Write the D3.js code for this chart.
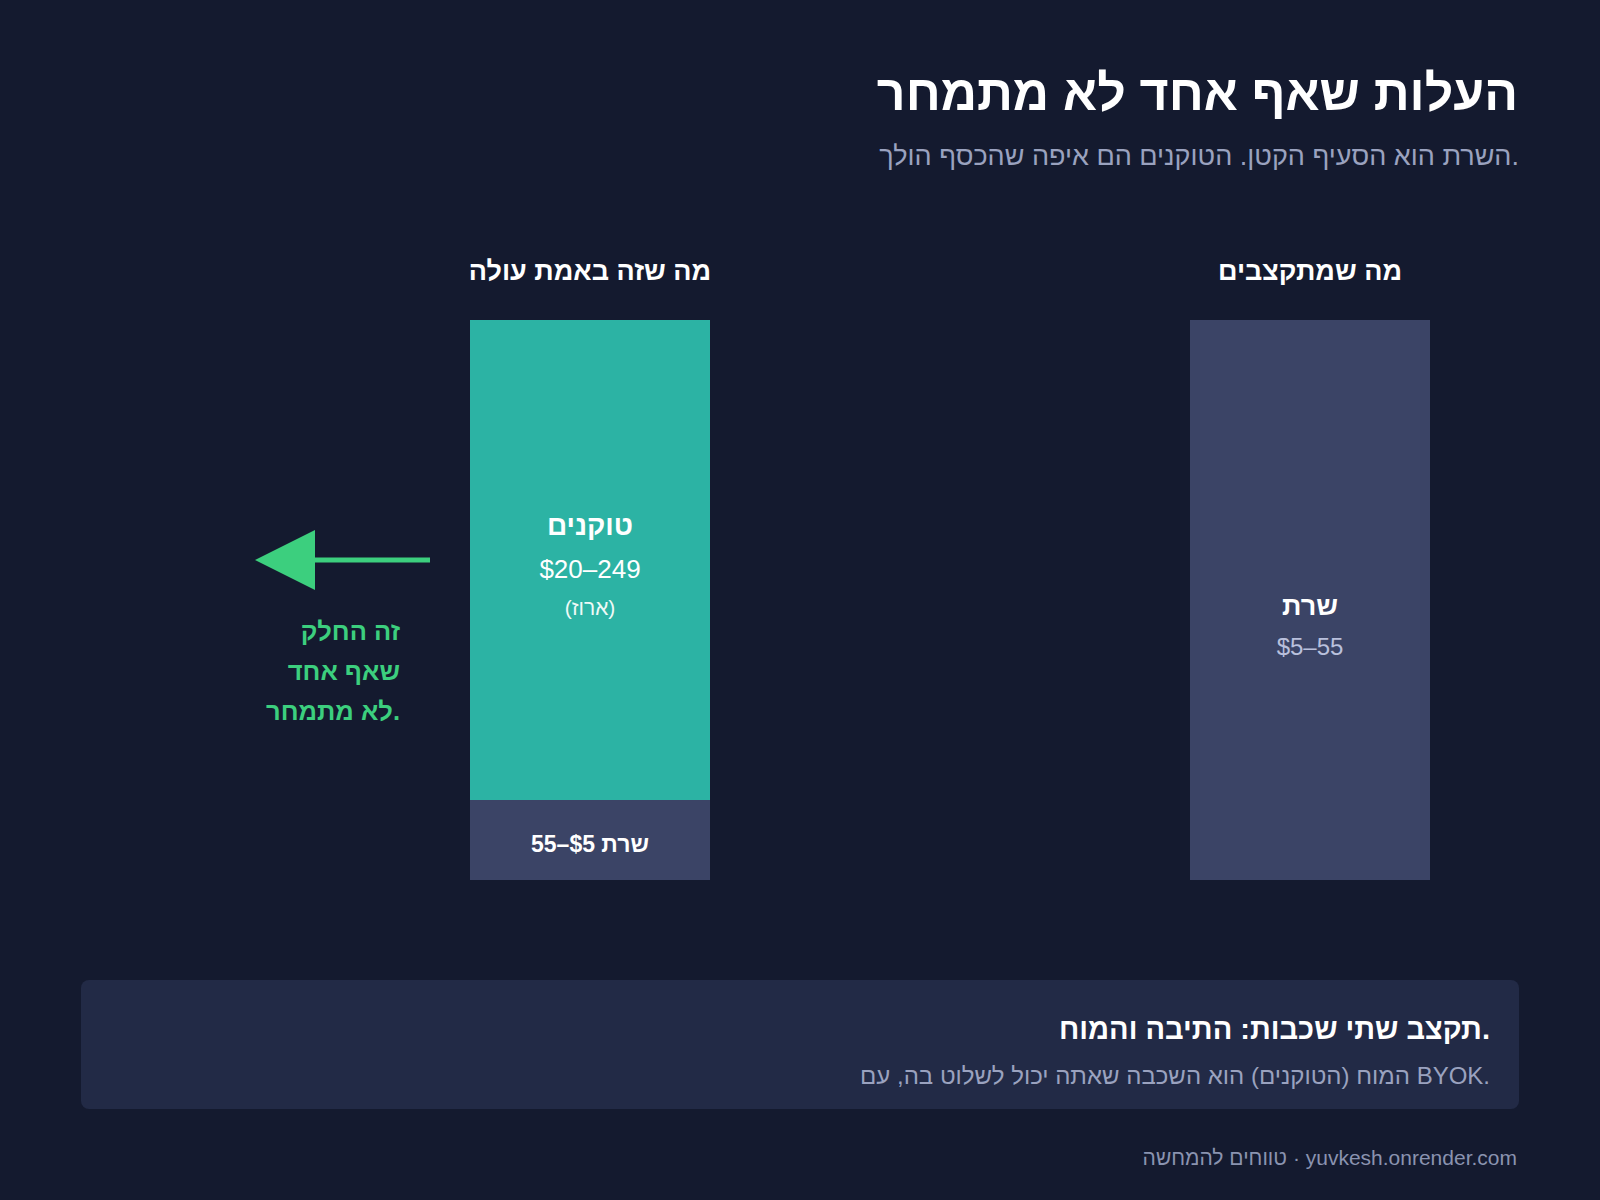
<!DOCTYPE html>
<html>
<head>
<meta charset="utf-8">
<script src="https://cdn.jsdelivr.net/npm/d3@7"></script>
<style>
  html, body { margin: 0; padding: 0; background: #141a2f; }
  svg { display: block; }
  text { font-family: "Liberation Sans", Arial, "DejaVu Sans", sans-serif; }
</style>
</head>
<body>
<svg id="chart" width="1600" height="1200"></svg>
<script>
// ---- data ----
const columns = ["מה שזה באמת עולה", "מה שמתקצבים"];
const segmentKeys = ["server", "tokens"];
// illustrative bar units (not to scale of dollars)
const actualValues = [1, 6];      // server, tokens
const budgetValues = [7, 0];      // server, tokens
const serverRange = "$5–55";
const tokensRange = "$20–249";
const serverName = "שרת";
const tokensName = "טוקנים";
const tokensNote = "(ארוז)";
const annotationLines = ["זה החלק", "שאף אחד", "לא מתמחר."];
const titleText = "העלות שאף אחד לא מתמחר";
const subtitleText = "השרת הוא הסעיף הקטן. הטוקנים הם איפה שהכסף הולך.";
const boxTitle = "תקצב שתי שכבות: התיבה והמוח.";
const boxText = "המוח (הטוקנים) הוא השכבה שאתה יכול לשלוט בה, עם BYOK.";
const footerText = "טווחים להמחשה · yuvkesh.onrender.com";

const colors = { server: "#3b4466", tokens: "#2cb3a4", bg: "#141a2f", box: "#222a46",
  green: "#3ccf7e", muted: "#9aa2bf", white: "#ffffff" };

const svg = d3.select("#chart");
svg.append("rect").attr("width", 1600).attr("height", 1200).attr("fill", colors.bg);

// ---- scales ----
const x = d3.scaleBand().domain(columns).range([470, 1430]).paddingInner(2/3).paddingOuter(0);
const y = d3.scaleLinear().domain([0, 7]).range([880, 320]);

// ---- header ----
svg.append("text").attr("x", 1518).attr("y", 110).attr("text-anchor", "end")
  .attr("font-size", 50).attr("font-weight", 700).attr("fill", colors.white).text(titleText);
svg.append("text").attr("x", 1519).attr("y", 165).attr("text-anchor", "end")
  .attr("font-size", 27).attr("fill", colors.muted).text(subtitleText);

// column headers
svg.selectAll("text.colhead").data(columns).join("text").attr("class", "colhead")
  .attr("x", d => x(d) + x.bandwidth() / 2).attr("y", 280).attr("text-anchor", "middle")
  .attr("font-size", 27).attr("font-weight", 700).attr("fill", colors.white).text(d => d);

// ---- stacked bars ----
const rows = [
  Object.assign({ col: columns[0] }, Object.fromEntries(segmentKeys.map((k, i) => [k, actualValues[i]]))),
  Object.assign({ col: columns[1] }, Object.fromEntries(segmentKeys.map((k, i) => [k, budgetValues[i]])))
];
const stack = d3.stack().keys(segmentKeys)(rows);
const g = svg.append("g");
g.selectAll("g.layer").data(stack).join("g").attr("class", "layer")
  .attr("fill", d => colors[d.key])
  .selectAll("rect").data(d => d.filter(s => s[1] > s[0])).join("rect")
  .attr("x", d => x(d.data.col)).attr("width", x.bandwidth())
  .attr("y", d => y(d[1])).attr("height", d => y(d[0]) - y(d[1]));

// labels: actual column
const cA = x(columns[0]) + x.bandwidth() / 2;
const tokTop = y(actualValues[0] + actualValues[1]);
const tokBot = y(actualValues[0]);
const tokMid = (tokTop + tokBot) / 2;
svg.append("text").attr("x", cA).attr("y", tokMid - 25).attr("text-anchor", "middle")
  .attr("font-size", 28).attr("font-weight", 700).attr("fill", colors.white).text(tokensName);
svg.append("text").attr("x", cA).attr("y", tokMid + 18).attr("text-anchor", "middle")
  .attr("font-size", 26).attr("fill", colors.white).text(tokensRange);
svg.append("text").attr("x", cA).attr("y", tokMid + 55).attr("text-anchor", "middle")
  .attr("font-size", 21).attr("fill", "#eefaf7").text(tokensNote);
const srvMid = (y(0) + y(actualValues[0])) / 2;
svg.append("text").attr("x", cA).attr("y", srvMid + 12).attr("text-anchor", "middle")
  .attr("font-size", 23).attr("font-weight", 700).attr("fill", colors.white)
  .text(serverName + " " + serverRange);

// labels: budget column
const cB = x(columns[1]) + x.bandwidth() / 2;
const bMid = (y(0) + y(budgetValues[0])) / 2;
svg.append("text").attr("x", cB).attr("y", bMid + 15).attr("text-anchor", "middle")
  .attr("font-size", 27).attr("font-weight", 700).attr("fill", colors.white).text(serverName);
svg.append("text").attr("x", cB).attr("y", bMid + 55).attr("text-anchor", "middle")
  .attr("font-size", 24).attr("fill", "#b9c0dc").text(serverRange);

// ---- annotation arrow ----
const ay = y(actualValues[0] + actualValues[1] / 2);
const ax0 = x(columns[0]) - 40;
svg.append("line").attr("x1", ax0).attr("x2", 312).attr("y1", ay).attr("y2", ay)
  .attr("stroke", colors.green).attr("stroke-width", 5);
svg.append("path").attr("d", `M255,${ay} L315,${ay - 30} L315,${ay + 30} Z`).attr("fill", colors.green);
svg.selectAll("text.annot").data(annotationLines).join("text").attr("class", "annot")
  .attr("x", 400).attr("y", (d, i) => 640 + i * 40).attr("text-anchor", "end")
  .attr("font-size", 25.5).attr("font-weight", 700).attr("fill", colors.green).text(d => d);

// ---- bottom box ----
svg.append("rect").attr("x", 81).attr("y", 980).attr("width", 1438).attr("height", 129)
  .attr("rx", 8).attr("fill", colors.box);
svg.append("text").attr("x", 1490).attr("y", 1039).attr("text-anchor", "end")
  .attr("font-size", 29).attr("font-weight", 700).attr("fill", colors.white).text(boxTitle);
svg.append("text").attr("x", 1490).attr("y", 1084).attr("text-anchor", "end")
  .attr("font-size", 24).attr("fill", colors.muted).text(boxText);

// ---- footer ----
svg.append("text").attr("x", 1517).attr("y", 1165).attr("text-anchor", "end")
  .attr("font-size", 21).attr("fill", "#8a93b0").text(footerText);
</script>
</body>
</html>
